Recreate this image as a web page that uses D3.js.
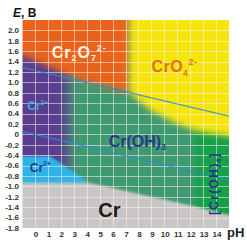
<!DOCTYPE html>
<html><head><meta charset="utf-8">
<script src="https://cdn.jsdelivr.net/npm/d3@7/dist/d3.min.js"></script>
<style>html,body{margin:0;padding:0;background:#fff;}svg{display:block;}</style>
</head><body>
<script>
// ---- data ----
const pHTicks = [0,1,2,3,4,5,6,7,8,9,10,11,12,13,14];
const eTicks = [2.0,1.8,1.6,1.4,1.2,1.0,0.8,0.6,0.4,0.2,0,-0.2,-0.4,-0.6,-0.8,-1.0,-1.2,-1.4,-1.6,-1.8];
const eTickLabels = ["2.0","1.8","1.6","1.4","1.2","1.0","0.8","0.6","0.4","0.2","0","-0.2","-0.4","-0.6","-0.8","-1.0","-1.2","-1.4","-1.6","-1.8"];
// region boundaries [pH, E]
const cr2o7Lower = [[-1,1.52],[3.5,1.04],[7.3,0.79]];
const cr2o7Right = 7.3;
const cro4Lower = [[7.3,0.79],[9,0.45],[11,0.2],[12.5,0.06],[15,-0.04]];
const cr3Right = 2.6;
const cr3Lower = -0.42;
const cr2Upper = [[-1,-0.42],[1.2,-0.42],[4.2,-0.93]];
const crUpper = [[-1,-0.93],[4.2,-0.93],[12.3,-1.38],[15,-1.55]];
const crOH4Left = 12.4;
const o2Line = [[-1,1.29],[15,0.35]];
const h2Line = [[-1,0.06],[15,-0.88]];

const W = 247, H = 245;
const x = d3.scaleLinear().domain([-1,15]).range([22,229]);
const y = d3.scaleLinear().domain([-1.8,2.2]).range([228,20]);
const [x0,x1] = x.domain(), [y0,y1] = y.domain();
const ext = 1.2; // extension beyond plot so blurred edges stay solid

const svg = d3.select("body").append("svg").attr("width",W).attr("height",H);
const defs = svg.append("defs");
defs.append("clipPath").attr("id","plot").append("rect")
  .attr("x",x(x0)).attr("y",y(y1)).attr("width",x(x1)-x(x0)).attr("height",y(y0)-y(y1));
function blur(id, s){
  defs.append("filter").attr("id",id).attr("x","-30%").attr("y","-30%").attr("width","160%").attr("height","160%")
    .append("feGaussianBlur").attr("stdDeviation",s);
}
blur("b1",1); blur("b2",2.5); blur("b3",3.2); blur("b6",6);

const line = d3.line().x(d=>x(d[0])).y(d=>y(d[1]));
const area = svg.append("g").attr("clip-path","url(#plot)");
function poly(pts, fill, filt){
  area.append("path").attr("d", line(pts)+"Z").attr("fill",fill).attr("filter", filt ? `url(#${filt})` : null);
}
// Cr(OH)3 base
poly([[x0-ext,y1+ext],[x1+ext,y1+ext],[x1+ext,y0-ext],[x0-ext,y0-ext]], "#3f9a72");
// Cr3+
poly([[x0-ext,y1+ext],[cr3Right,y1+ext],[cr3Right,cr3Lower-0.3],[x0-ext,cr3Lower-0.3]], "#5a3d8e", "b6");
// [Cr(OH)4]-
poly([[crOH4Left,0.6],[x1+ext,0.6],[x1+ext,-1.7],[crOH4Left,-1.7]], "#17a046", "b3");
// Cr2O7 2-
poly([[x0-ext,y1+ext],[cr2o7Right,y1+ext],...cr2o7Lower.slice().reverse(),[x0-ext,cr2o7Lower[0][1]+0.1]], "#e9641e", "b3");
// CrO4 2-
poly([[cr2o7Right,y1+ext],[x1+ext,y1+ext],[x1+ext,cro4Lower[cro4Lower.length-1][1]],...cro4Lower.slice().reverse()], "#f6e40c", "b3");
// Cr2+
poly([[x0-ext,cr2Upper[0][1]],...cr2Upper,[x0-ext,cr2Upper[2][1]-0.1]], "#2eb3e6", "b1");
// Cr
poly([[x0-ext,crUpper[0][1]],...crUpper,[x1+ext,crUpper[crUpper.length-1][1]-0.05],[x1+ext,y0-ext],[x0-ext,y0-ext]], "#c9c6c6", "b1");

// grid
const grid = svg.append("g").attr("clip-path","url(#plot)").attr("stroke","#fff2f2").attr("stroke-opacity",0.55).attr("stroke-width",1);
grid.selectAll("line.v").data(d3.range(x0,x1+1)).join("line")
  .attr("x1",d=>Math.round(x(d))+0.5).attr("x2",d=>Math.round(x(d))+0.5).attr("y1",y(y1)).attr("y2",y(y0));
grid.selectAll("line.h").data(eTicks).join("line")
  .attr("y1",d=>Math.round(y(d))+0.5).attr("y2",d=>Math.round(y(d))+0.5).attr("x1",x(x0)).attr("x2",x(x1));

// water lines
const wl = svg.append("g").attr("clip-path","url(#plot)");
[o2Line,h2Line].forEach(l=>wl.append("path").attr("d",line(l)).attr("fill","none")
  .attr("stroke","#2b8fd2").attr("stroke-width",1.2).attr("stroke-opacity",0.85));

// axes tick labels
const font = "Arial, 'Liberation Sans', sans-serif";
svg.append("g").selectAll("text").data(eTicks).join("text")
  .attr("x",19).attr("y",d=>y(d)).attr("dy","0.35em").attr("text-anchor","end")
  .attr("font-family",font).attr("font-weight","bold").attr("font-size",8).attr("fill","#333")
  .text((d,i)=>eTickLabels[i]);
svg.append("g").selectAll("text").data(pHTicks).join("text")
  .attr("x",d=>x(d)+1).attr("y",237).attr("text-anchor","middle")
  .attr("font-family",font).attr("font-weight","bold").attr("font-size",8).attr("fill","#333")
  .text(d=>d);
const et = svg.append("text").attr("x",13).attr("y",17).attr("font-family",font).attr("font-weight","bold").attr("font-size",12).attr("fill","#111");
et.append("tspan").attr("font-style","italic").text("E");
et.append("tspan").text(", B");
svg.append("text").attr("x",227).attr("y",237).attr("font-family",font).attr("font-weight","bold").attr("font-size",13).attr("fill","#222").text("pH");

// region labels
function label(px, py, parts, size, color, extra){
  const t = svg.append("text").attr("x",x(px)).attr("y",y(py)).attr("font-family",font)
    .attr("font-weight","bold").attr("font-size",size).attr("fill",color);
  if (extra) extra(t);
  let shift = 0;
  parts.forEach(p=>{
    const target = p[1]==="sub" ? size*0.22 : p[1]==="sup" ? -size*0.45 : 0;
    t.append("tspan").attr("dy",target-shift).attr("font-size", p[1] ? size*0.55 : size).text(p[0]);
    shift = target;
  });
  return t;
}
label(1.3, 1.47, [["Cr"],["2","sub"],["O"],["7","sub"],["2-","sup"]], 16, "#fff6e8", t=>t.attr("letter-spacing",1));
label(9.0, 1.2, [["CrO"],["4","sub"],["2-","sup"]], 16, "#e0701c", t=>t.attr("letter-spacing",0.5));
label(-0.6, 0.47, [["Cr"],["3+","sup"]], 12, "#3aa6de");
label(-0.4, -0.72, [["Cr"],["2+","sup"]], 12, "#1f3f8e");
label(5.7, -0.24, [["Cr(OH)"],["3","sub"]], 16, "#2b3a8a");
label(4.9, -1.59, [["Cr"]], 20, "#1c1c1c");
label(0, 0, [["[Cr(OH)"],["4","sub"],["]"]], 12, "#22358a",
  t=>t.attr("x",0).attr("y",0).attr("transform",`translate(${x(14.15)},${y(-1.55)}) rotate(-90)`)
      .attr("letter-spacing",1.3));
</script>
</body></html>
